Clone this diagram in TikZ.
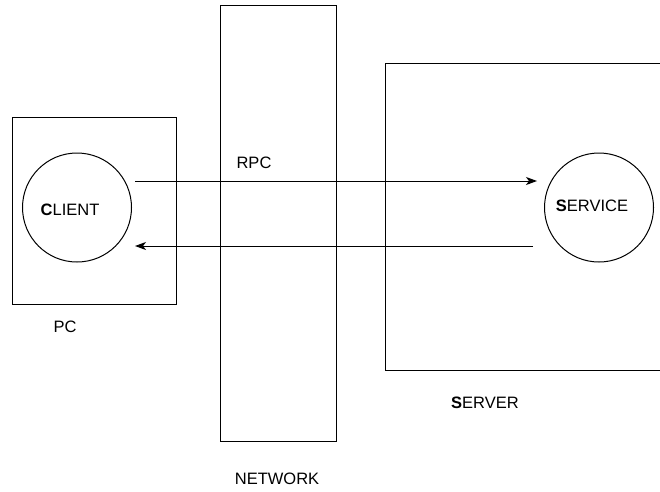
\documentclass[tikz,border=0pt]{standalone}
\usepackage{fontspec}
\setmainfont{Liberation Sans}
\usetikzlibrary{arrows.meta}
\newcommand{\capword}[2]{\textbf{#1}#2}
\tikzset{
  box/.style={draw, line width=1pt},
  proc/.style={draw, circle, line width=1pt, minimum size=109pt, inner sep=0pt},
  lbl/.style={inner sep=0pt, font=\fontsize{16.5}{20}\selectfont},
  msg/.style={line width=1pt, -{Stealth[length=11pt, width=8pt, inset=3pt]}}
}
\begin{document}
\begin{tikzpicture}[x=1pt, y=-1pt]
  \useasboundingbox (0,0) rectangle (660,491);
  \clip (0,0) rectangle (660,491);
  % hosts and the network between them
  \draw[box] (12,117) rectangle (176,304);
  \draw[box] (220,5.5) rectangle (336.5,441.5);
  \draw[box] (385,63.5) rectangle (680,370);
  % processes
  \node[proc] (client) at (77,207.5) {};
  \node[proc] (service) at (599,207.5) {};
  \node[lbl] (clientlbl) at (70,210) {\capword{C}{LIENT}};
  \node[lbl] (servicelbl) at (592,205.5) {\capword{S}{ERVICE}};
  % call and reply
  \coordinate (callfrom) at (135,181);
  \coordinate (callto) at (537,181);
  \coordinate (replyfrom) at (533,246);
  \coordinate (replyto) at (135,246);
  \draw[msg] (callfrom) -- (callto);
  \draw[msg] (replyfrom) -- (replyto);
  % captions
  \node[lbl] (rpc) at (254,163) {RPC};
  \node[lbl] (pc) at (65,327) {PC};
  \node[lbl] (server) at (485,403) {\capword{S}{ERVER}};
  \node[lbl] (network) at (277,479) {NETWORK};
\end{tikzpicture}
\end{document}
